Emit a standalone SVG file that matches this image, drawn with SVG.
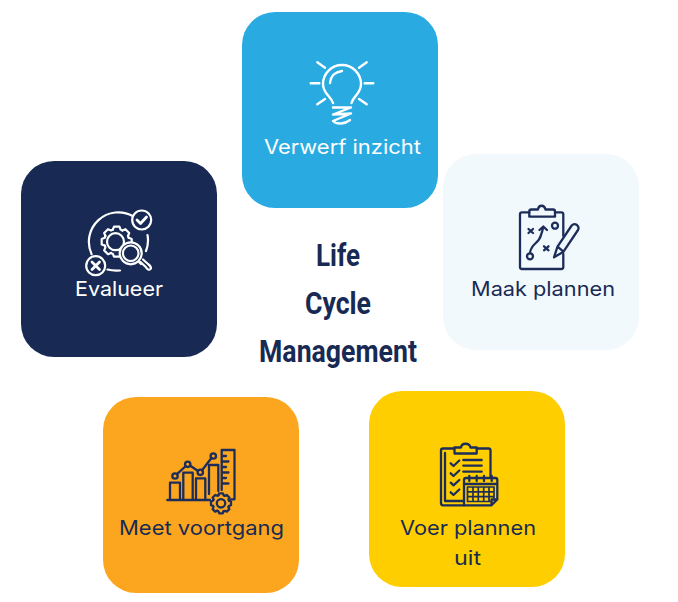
<svg xmlns="http://www.w3.org/2000/svg" width="678" height="602" viewBox="0 0 678 602">
<style>
.lab{font-family:"Inter","Lato","Liberation Sans",sans-serif;font-size:20px}
.title{font-family:"Roboto","Liberation Sans",sans-serif;font-weight:700;font-size:31px;fill:#182A54}
.ic{fill:none;stroke-linecap:round;stroke-linejoin:round}
.w{stroke:#fff}.d{stroke:#1C2D5A}
</style>
<defs>
<path id="tooth" d="M-2.6-8L-1.8-10L1.8-10L2.6-8A8.4 8.4 0 0 1 3.81-7.48" vector-effect="non-scaling-stroke"/>
<g id="gear">
<use href="#tooth"/><use href="#tooth" transform="rotate(45)"/><use href="#tooth" transform="rotate(90)"/><use href="#tooth" transform="rotate(135)"/><use href="#tooth" transform="rotate(180)"/><use href="#tooth" transform="rotate(225)"/><use href="#tooth" transform="rotate(270)"/><use href="#tooth" transform="rotate(315)"/>
</g>
</defs>
<rect width="678" height="602" fill="#fff"/>

<g id="node-verwerf">
<rect x="242" y="12" width="196" height="196" rx="33" fill="#29ABE2"/>
<g class="ic w" stroke-width="2.400">
<path d="M333 103C331 96 323 94 323 84A19 19 0 0 1 361 84C361 94 353 96 351.500 103"/>
<path d="M330 83C331 75 335 72 342 71"/>
<path d="M317.300 62.300L325 67.700M366.700 62.300L359 67.700M310.700 83.300H319.300M364.700 83.300H373.300M317.300 104.300L325 99M366.700 104.300L359 99"/>
<path d="M333 107.500H351L333 114.500L351 113.500L333 121C337 125 345 124 350 120"/>
</g>
<text class="lab" x="264" y="154" fill="#fff" textLength="157" lengthAdjust="spacingAndGlyphs">Verwerf inzicht</text>
</g>

<g id="node-maak">
<rect x="443" y="154" width="196" height="196" rx="33" fill="#F2F9FD"/>
<g class="ic d" stroke-width="2.300">
<path d="M529.300 212.300H522Q520 212.300 520 214.300V267Q520 269 522 269H561.300Q563.300 269 563.300 267V254M555 212.300H561.300Q563.300 212.300 563.300 214.300V236"/>
<path d="M529.300 216.700V211.500Q529.300 209.500 531.300 209.500H538C538.500 204.500 544.500 204.500 545.500 209.500H553Q555 209.500 555 211.500V216.700Z"/>
<path d="M528.500 229L533 233M533 229L528.500 233M544 246.300L548.500 250.300M548.500 246.300L544 250.300"/>
<circle cx="555" cy="225.700" r="3"/><circle cx="530" cy="256.300" r="3"/>
<path d="M530 253C531 243 539 244 541 235C542 232 543 230 543 227M539.500 230L543.300 226.500L547 230"/>
<path d="M554 257.300L557.500 246.700L571.700 225.500Q574 223 577 225Q579.500 227.500 578 230L563.500 251.700ZM557.500 246.700L563.500 251.700"/>
</g>
<text class="lab" x="471" y="296" fill="#182A54" textLength="144" lengthAdjust="spacingAndGlyphs">Maak plannen</text>
</g>

<g id="node-voer">
<rect x="369" y="391" width="196" height="196" rx="33" fill="#FFCE00"/>
<g class="ic d" stroke-width="2.300">
<path d="M454.300 448.500H443Q441 448.500 441 450.500V503Q441 505.300 443 505.300H464M476.700 448.500H488.500Q490.500 448.500 490.500 450.500V477M445 453V501H464"/>
<path d="M454.500 453.500V447.500H461C461.500 442.500 469.500 442.500 470.500 447.500H476.700V453.500Z"/>
<path d="M450.700 463.300L453.500 466L459.300 460.500M450.700 473.300L453.500 476L459.300 470.500M450.700 482.700L453.500 485.400L459.300 480M450.700 492.300L453.500 495L459.300 489.500"/>
<path d="M463.300 460H481.700M463.300 465.700H481.700M463.300 471.700H481.700"/>
<path d="M464 505.300V480Q464 478 466 478H495.300Q497.300 478 497.300 480V499.500L491.500 505.300ZM491.500 505.300V499.500H497.300M464 484H497.300"/>
<path d="M469.300 476V481M476.700 476V481M484 476V481M491.700 476V481"/>
<path stroke-width="1.700" d="M467.500 487H494M467.500 491.800H494M467.500 496.600H494M467.500 501.500H490M467.500 487V501.500M473 487V501.500M478.300 487V501.500M483.700 487V501.500M489 487V501.500M494 487V498"/>
</g>
<text class="lab" x="400" y="535" fill="#182A54" textLength="136" lengthAdjust="spacingAndGlyphs">Voer plannen</text>
<text class="lab" x="454" y="565" fill="#182A54" textLength="27" lengthAdjust="spacingAndGlyphs">uit</text>
</g>

<g id="node-meet">
<rect x="103" y="397" width="196" height="196" rx="33" fill="#FCA61F"/>
<g class="ic d" stroke-width="2.300">
<path d="M167.300 500H210M170 499.500V482.700H180V499.500M183.300 499.500V472.700H192.700V499.500M196 499.500V478.300H205.300V499.500M209 494V465H218.300V491"/>
<path d="M177 474.200L185.800 466M190 465.500L198 471M202 470.300L211.500 458"/>
<circle cx="175" cy="476" r="2.700"/><circle cx="187.700" cy="464.300" r="2.700"/><circle cx="200.300" cy="472.300" r="2.700"/><circle cx="213.300" cy="456" r="2.700"/>
<path d="M221.700 490V450H234.500V499.300H231M221.700 456H226M221.700 461.500H228.500M221.700 467H226M221.700 472.500H228.500M221.700 478H226M221.700 483.500H228.500"/>
<use href="#gear" transform="translate(221 503.300)"/>
<circle cx="221" cy="503.300" r="4.200"/>
</g>
<text class="lab" x="119" y="535" fill="#182A54" textLength="165" lengthAdjust="spacingAndGlyphs">Meet voortgang</text>
</g>

<g id="node-evalueer">
<rect x="21" y="161" width="196" height="196" rx="33" fill="#182A54"/>
<g class="ic w" stroke-width="2.200">
<path d="M133 216.200A29.500 29.500 0 0 0 91.600 254.200M147.500 235A29.500 29.500 0 0 1 146 251M107.500 269.500Q113 271 120 270.500"/>
<use href="#gear" transform="translate(116.700 241.700) scale(1.500)"/>
<circle cx="115.500" cy="241.700" r="8.500"/>
<circle cx="130.700" cy="253.300" r="11" fill="#182A54"/>
<circle cx="130.700" cy="253.300" r="7.800"/>
<path d="M138.500 261.500L141 264M140.500 262L146 267.300Q149 271.500 151 268.500Q151 266 148 264L143 259.500"/>
<circle cx="141.700" cy="220" r="9.500"/>
<path stroke-width="2.800" d="M137 220L140.500 223.500L146.500 217"/>
<circle cx="95.700" cy="265.700" r="9.500" fill="#182A54"/>
<path stroke-width="2.800" d="M92 262L99.500 269.500M99.500 262L92 269.500"/>
</g>
<text class="lab" x="75" y="296" fill="#fff" textLength="88" lengthAdjust="spacingAndGlyphs">Evalueer</text>
</g>

<g id="title">
<text class="title" x="316" y="266" textLength="44" lengthAdjust="spacingAndGlyphs">Life</text>
<text class="title" x="305" y="313.500" textLength="66" lengthAdjust="spacingAndGlyphs">Cycle</text>
<text class="title" x="259" y="361.500" textLength="158" lengthAdjust="spacingAndGlyphs">Management</text>
</g>
</svg>
